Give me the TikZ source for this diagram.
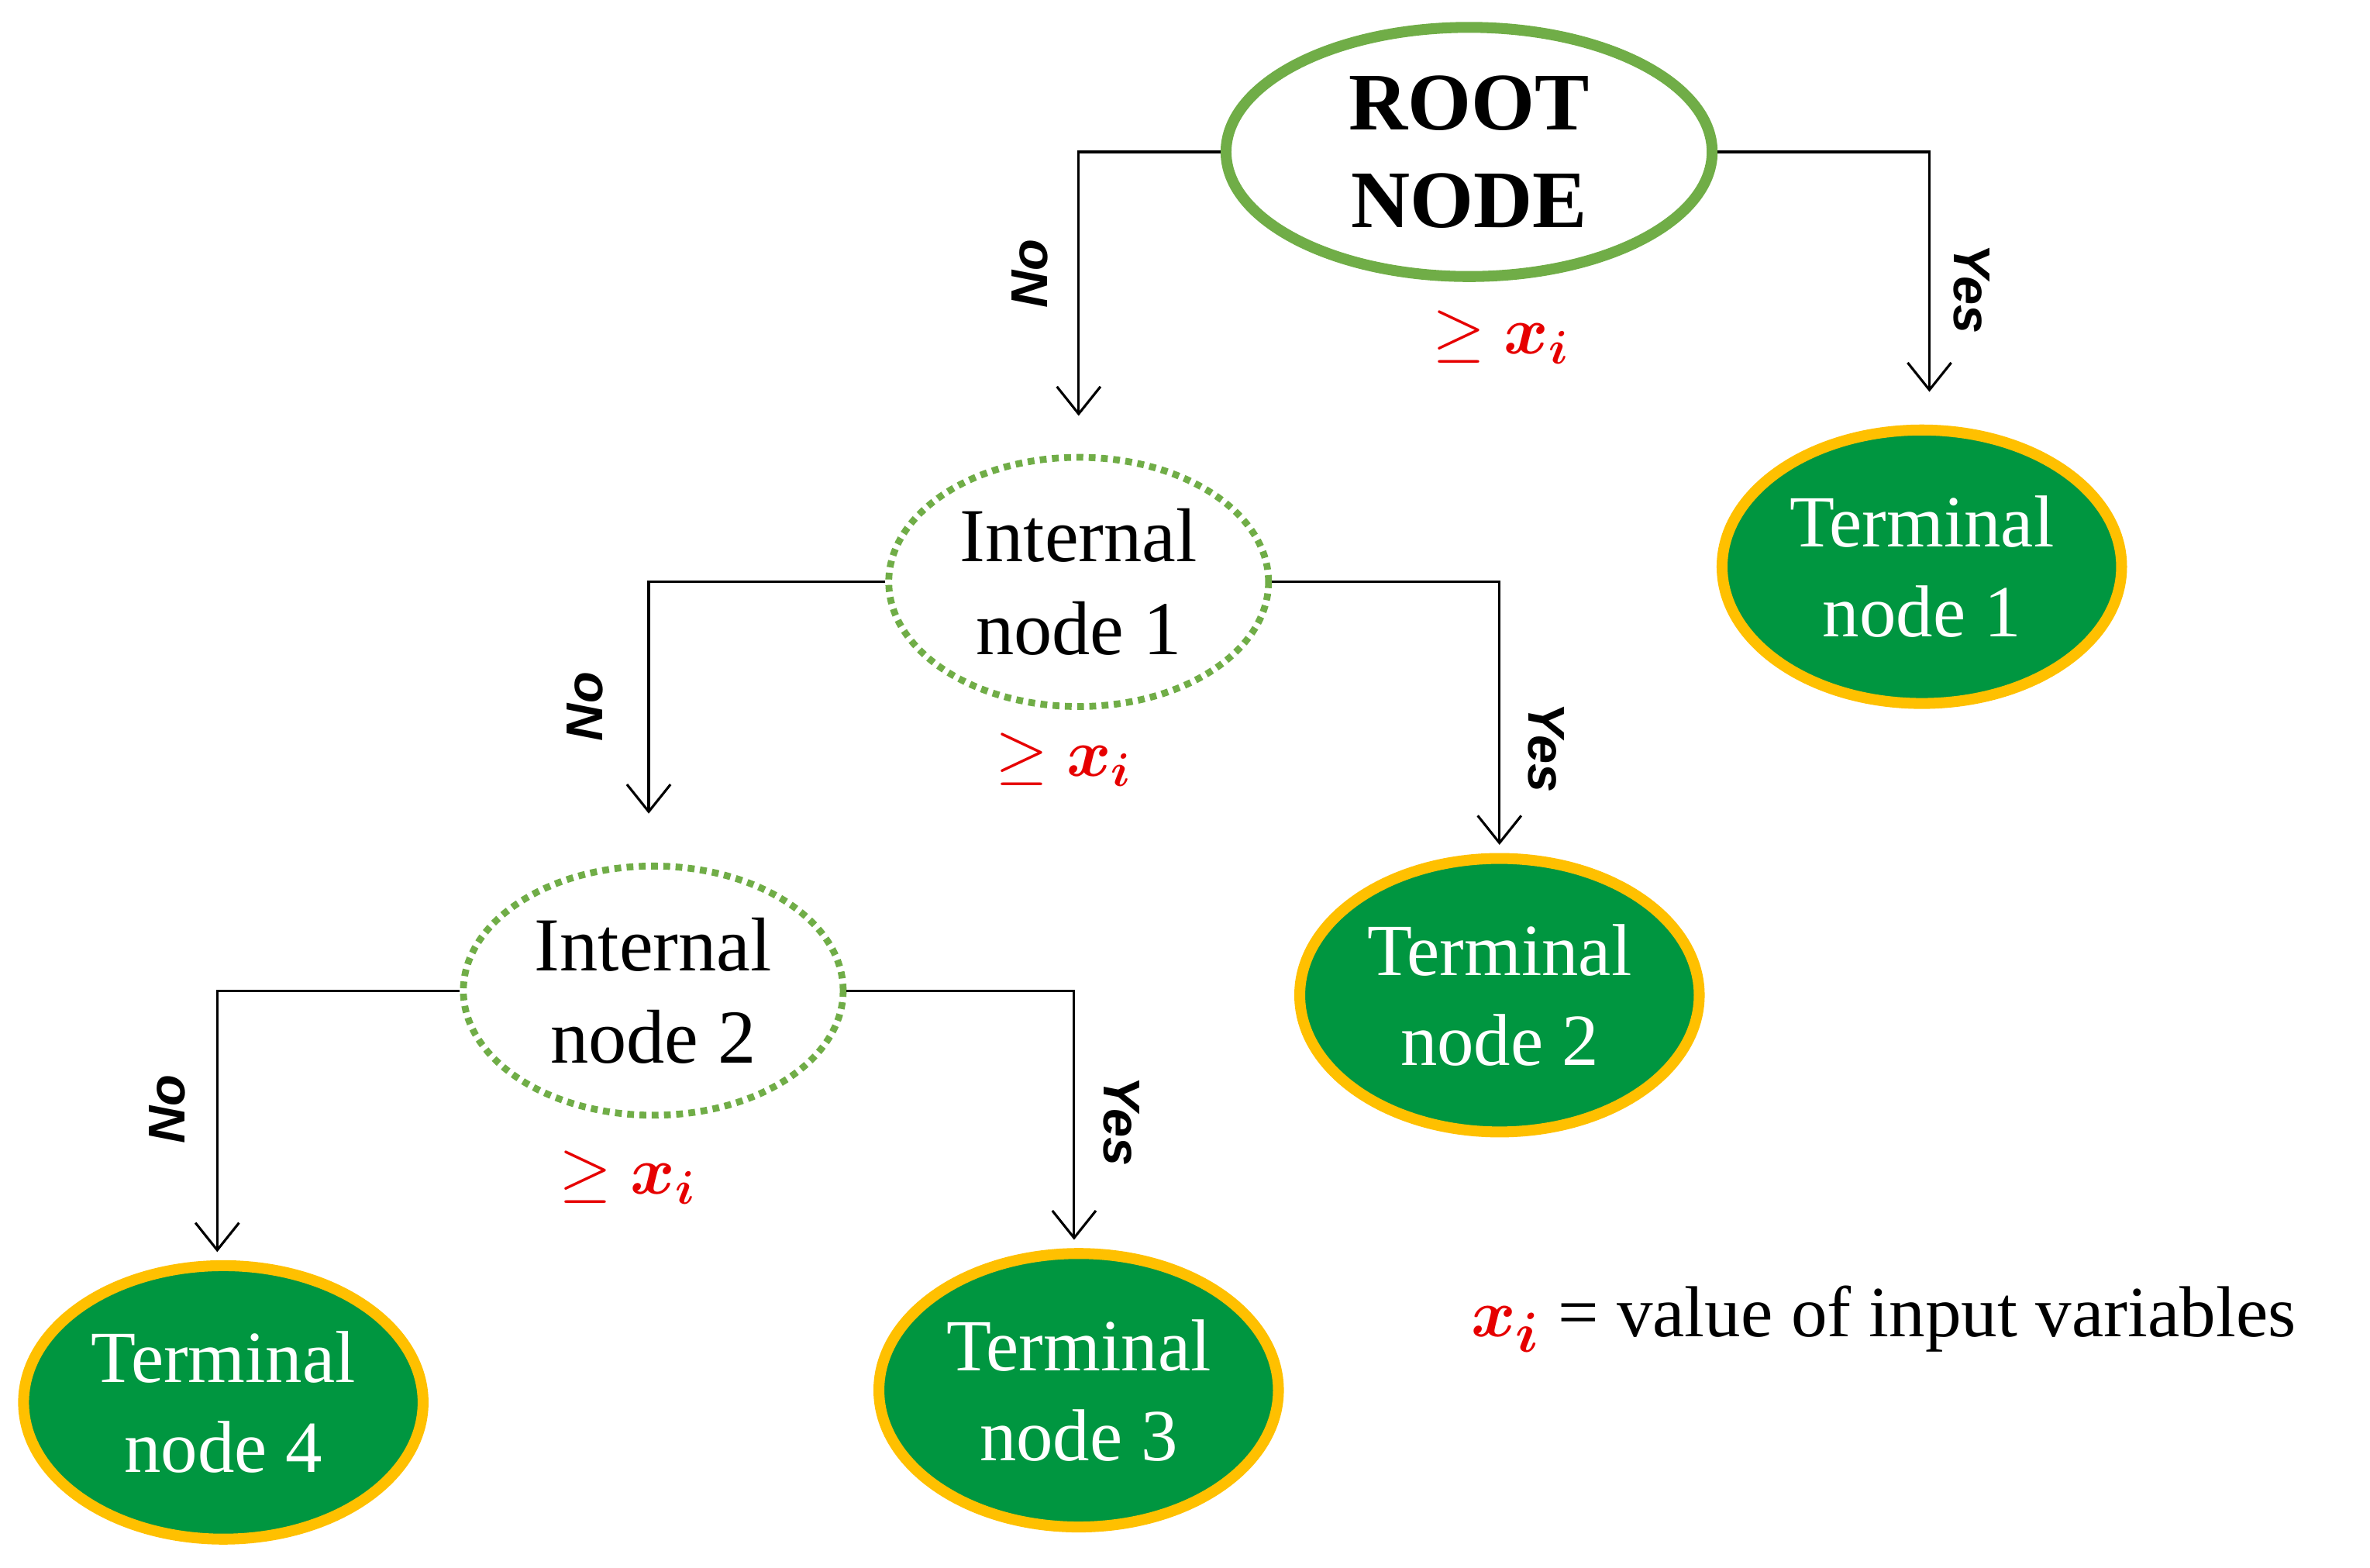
\documentclass[tikz,border=0pt]{standalone}
\usepackage{fontspec}
\setmainfont{Liberation Serif}
\newfontfamily\lab{Liberation Sans}
\usepackage{bm}
\usetikzlibrary{shapes.geometric,arrows.meta}
\definecolor{lg}{RGB}{112,173,71}
\definecolor{tg}{RGB}{0,150,64}
\definecolor{tor}{RGB}{255,192,0}
\definecolor{xr}{RGB}{230,0,0}
\begin{document}
\begin{tikzpicture}[x=0.0196cm,y=-0.0196cm,
  int/.style={ellipse,draw=lg,line width=2.5pt,dotted,minimum width=250*0.0196cm,minimum height=164*0.0196cm,align=center,font=\fontsize{28}{34}\selectfont},
  term/.style={ellipse,draw=tor,fill=tg,line width=4pt,minimum width=258*0.0196cm,minimum height=180*0.0196cm,align=center,text=white,font=\fontsize{27}{33}\selectfont},
  edge/.style={draw,line width=0.9pt,-{Straight Barb[length=10pt,width=16pt]}},
  lbl/.style={font=\lab\bfseries\itshape\fontsize{19}{22}\selectfont},
  ge/.style={text=xr,font=\fontsize{24}{28}\selectfont}]
\useasboundingbox (0,0) rectangle (1560,1032);
\node[ellipse,draw=lg,line width=4pt,minimum width=320*0.0196cm,minimum height=164*0.0196cm,align=center,font=\bfseries\fontsize{30}{36}\selectfont] (root) at (967,100) {ROOT\\NODE};
\node[int] (in1) at (710,383) {Internal\\node 1};
\node[int] (in2) at (430,652) {Internal\\node 2};
\node[term] (t1) at (1265,373) {Terminal\\node 1};
\node[term] (t2) at (987,655) {Terminal\\node 2};
\node[term] (t3) at (710,915) {Terminal\\node 3};
\node[term] (t4) at (147,923) {Terminal\\node 4};
\draw[edge,shorten >=14pt] (root.west) -| (in1.north);
\draw[edge,shorten >=12pt] (root.east) -| ([xshift=5*0.0196cm]t1.north);
\draw[edge,shorten >=18pt] (in1.west) -| ([xshift=-3*0.0196cm]in2.north);
\draw[edge,shorten >=3pt] (in1.east) -| (t2.north);
\draw[edge,shorten >=3pt] (in2.west) -| ([xshift=-4*0.0196cm]t4.north);
\draw[edge,shorten >=3pt] (in2.east) -| ([xshift=-3*0.0196cm]t3.north);
\node[lbl,rotate=90] (n1) at (678,180) {No};
\node[lbl,rotate=-90] (y1) at (1298,190) {Yes};
\node[lbl,rotate=90] (n2) at (385,465) {No};
\node[lbl,rotate=-90] (y2) at (1018,492) {Yes};
\node[lbl,rotate=90] (n3) at (110,730) {No};
\node[lbl,rotate=-90] (y3) at (738,738) {Yes};
\node[ge] (g1) at (988,222) {$\geq\bm{x_i}$};
\node[ge] (g2) at (700,500) {$\geq\bm{x_i}$};
\node[ge] (g3) at (413,775) {$\geq\bm{x_i}$};
\node[anchor=west,font=\fontsize{26.5}{30}\selectfont] (leg) at (962,868) {\textcolor{xr}{\fontsize{30}{30}\selectfont$\bm{x_i}$} = value of input variables};
\end{tikzpicture}
\end{document}
